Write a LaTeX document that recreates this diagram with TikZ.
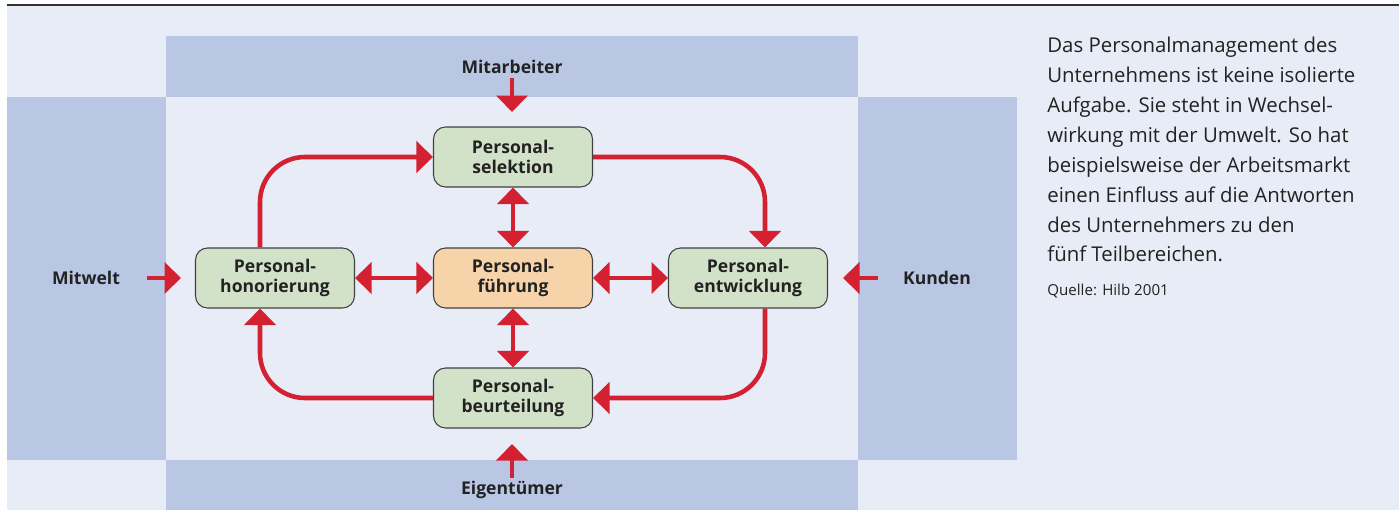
\documentclass[tikz,border=0pt]{standalone}
\usepackage{fontspec}
\setmainfont{Open Sans}
\usetikzlibrary{arrows.meta}

\definecolor{bglight}{HTML}{E8ECF7}
\definecolor{band}{HTML}{B9C7E4}
\definecolor{boxgreen}{HTML}{D2E2C8}
\definecolor{boxorange}{HTML}{F7D3A9}
\definecolor{arrowred}{HTML}{D42131}
\definecolor{textgray}{HTML}{222222}

\begin{document}
\begin{tikzpicture}[x=0.02cm, y=-0.02cm,
    teil/.style={draw=black!75, line width=0.6pt, rounded corners=0.24cm, fill=boxgreen,
        minimum width=3.18cm, minimum height=1.2cm, align=center,
        font=\fontsize{10}{11.4}\selectfont\bfseries, text=textgray},
    umwelt/.style={font=\fontsize{10}{11.4}\selectfont\bfseries, text=textgray},
    pfeil/.style={draw=arrowred, line width=2.6pt, -{Triangle[width=0.62cm, length=0.33cm]}},
    doppel/.style={pfeil, {Triangle[width=0.62cm, length=0.33cm]}-{Triangle[width=0.62cm, length=0.33cm]}},
    kreis/.style={pfeil, rounded corners=0.9cm}]
    \useasboundingbox (0,0) rectangle (1399,510);

    % Background
    \fill[bglight] (7,5) rectangle (1399,510);
    \fill[band] (166,36) rectangle (858,97);
    \fill[band] (7,97) rectangle (166,460);
    \fill[band] (858,97) rectangle (1017,460);
    \fill[band] (166,460) rectangle (858,510);
    \draw[black!80, line width=0.9pt] (7,5) -- (1399,5);

    % Nodes
    \node[teil] (S) at (513,157) {Personal-\\selektion};
    \node[teil] (H) at (275,278) {Personal-\\honorierung};
    \node[teil, fill=boxorange] (F) at (513,278) {Personal-\\führung};
    \node[teil] (E) at (748,278) {Personal-\\entwicklung};
    \node[teil] (B) at (513,398) {Personal-\\beurteilung};

    \node[umwelt] (M) at (512,67) {Mitarbeiter};
    \node[umwelt] (W) at (86,278) {Mitwelt};
    \node[umwelt] (K) at (937,278) {Kunden};
    \node[umwelt] (G) at (512,490) {Eigentümer};

    \coordinate (Mt) at (512,78);
    \coordinate (Mh) at (512,112);
    \coordinate (Wt) at (147,278);
    \coordinate (Wh) at (181,278);
    \coordinate (Kt) at (878,278);
    \coordinate (Kh) at (843,278);
    \coordinate (Gt) at (512,478);
    \coordinate (Gh) at (512,444);

    % Lines
    \draw[pfeil] (Mt) -- (Mh);
    \draw[pfeil] (Wt) -- (Wh);
    \draw[pfeil] (Kt) -- (Kh);
    \draw[pfeil] (Gt) -- (Gh);

    \draw[doppel] (S) -- (F);
    \draw[doppel] (H) -- (F);
    \draw[doppel] (F) -- (E);
    \draw[doppel] (F) -- (B);

    \draw[kreis] ([xshift=-0.3cm]H.north) |- (S.west);
    \draw[kreis] (S.east) -| ([xshift=0.34cm]E.north);
    \draw[kreis] ([xshift=0.34cm]E.south) |- (B.east);
    \draw[kreis] (B.west) -| ([xshift=-0.3cm]H.south);

    \node[anchor=north west, inner sep=0pt, align=left, text=textgray,
        font=\fontsize{11.6}{17}\selectfont] (T) at (1047,37)
        {Das Personalmanagement des\\Unternehmens ist keine isolierte\\Aufgabe. Sie steht in Wechsel-\\wirkung mit der Umwelt. So hat\\beispielsweise der Arbeitsmarkt\\einen Einfluss auf die Antworten\\des Unternehmers zu den\\fünf Teilbereichen.};
    \node[anchor=north west, inner sep=0pt, text=textgray,
        font=\fontsize{8.6}{10}\selectfont] (Q) at (1047,284) {Quelle: Hilb 2001};
\end{tikzpicture}
\end{document}
